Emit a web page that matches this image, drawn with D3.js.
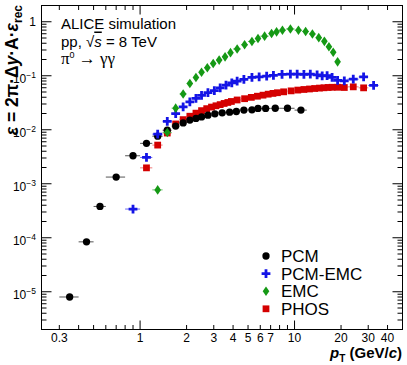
<!DOCTYPE html>
<html>
<head>
<meta charset="utf-8">
<script src="https://cdn.jsdelivr.net/npm/d3@7"></script>
<style>
  body { margin: 0; background: #fff; }
  svg { font-family: "Liberation Sans", Arial, Helvetica, sans-serif; }
</style>
</head>
<body>
<div id="chart"></div>
<script>
// ---- data: bin edges in pT (GeV/c) and efficiency per bin ----
const pcmEdges = [0.3, 0.4, 0.5, 0.6, 0.8, 1.0, 1.2, 1.4, 1.6, 1.8, 2.0, 2.2, 2.4, 2.6, 2.9,
                  3.2, 3.6, 4.0, 4.4, 5.0, 5.6, 6.0, 7.0, 8.0, 10.0, 12.0];
const pcmEff = [8.0e-6, 8.4e-5, 3.8e-4, 1.33e-3, 3.3e-3, 5.6e-3, 7.6e-3, 9.8e-3, 0.0117, 0.0134,
                0.0151, 0.0162, 0.0173, 0.0186, 0.0197, 0.0206, 0.0212, 0.0218, 0.0231, 0.0234,
                0.0248, 0.0248, 0.0250, 0.0250, 0.0231];

const pcmEmcEdges = [0.8, 1.0, 1.2, 1.4, 1.6, 1.8, 2.0, 2.2, 2.4, 2.6, 2.9, 3.15, 3.45, 3.75, 4.1,
                     4.4, 5.0, 5.6, 6.2, 7.0, 7.6, 9.0, 9.8, 11, 12, 13.3, 14.7, 15.5, 17, 18,
                     20, 22, 26, 30, 35];
const pcmEmcEff = [3.4e-4, 3.07e-3, 8.3e-3, 0.0143, 0.0199, 0.0265, 0.0329, 0.0381, 0.0433, 0.0486,
                   0.0530, 0.0597, 0.0670, 0.0739, 0.0794, 0.0854, 0.0930, 0.0954, 0.0983, 0.1013,
                   0.1058, 0.1071, 0.1071, 0.1058, 0.1071, 0.1035, 0.0991, 0.1004, 0.0930, 0.0822,
                   0.0801, 0.0865, 0.0951, 0.0661];

const emcEdges = [1.2, 1.4, 1.6, 1.8, 2.0, 2.2, 2.4, 2.6, 2.85, 3.1, 3.4, 3.7, 4.0, 4.5, 5.0,
                  5.6, 6.0, 6.8, 7.4, 7.9, 8.8, 10, 11.2, 12.4, 13.7, 15, 16.2, 17.2, 18.4, 19.6];
const emcEff = [7.7e-4, 8.9e-3, 0.0251, 0.046, 0.072, 0.093, 0.116, 0.141, 0.169, 0.195,
                0.224, 0.268, 0.313, 0.375, 0.432, 0.491, 0.541, 0.607, 0.650, 0.698,
                0.736, 0.698, 0.661, 0.594, 0.508, 0.434, 0.344, 0.273, 0.181];

const phosEdges = [1.0, 1.2, 1.4, 1.6, 1.8, 2.0, 2.2, 2.4, 2.6, 2.8, 3.0, 3.2, 3.4, 3.6, 3.8,
                   4.0, 4.5, 5.0, 5.5, 6.0, 6.5, 7.0, 7.5, 8.0, 9.0, 10, 11, 12, 13, 14,
                   15, 16, 17, 18, 20, 22, 26, 30];
const phosEff = [1.97e-3, 5.2e-3, 8.7e-3, 0.0128, 0.0154, 0.0178, 0.0203, 0.0226, 0.0246, 0.0263,
                 0.0278, 0.0292, 0.0307, 0.0320, 0.0334, 0.0356, 0.0376, 0.0398, 0.0418, 0.0437,
                 0.0456, 0.0471, 0.0485, 0.0504, 0.0525, 0.0543, 0.0557, 0.0569, 0.0581, 0.0591,
                 0.0599, 0.0607, 0.0612, 0.0612, 0.0606, 0.0623, 0.0597];

const xDomain = [0.23, 50];
const yDomain = [2e-6, 2];
const xTickLabels = [0.3, 1, 2, 3, 4, 5, 6, 7, 10, 20, 30, 40];
const yTickExponents = [0, -1, -2, -3, -4, -5];
const legendNames = ['PCM', 'PCM-EMC', 'EMC', 'PHOS'];

// ---- layout ----
const W = 407, H = 365;
const X0 = 41.5, X1 = 402.5, Y0 = 5.5, Y1 = 329.5;

const svg = d3.select('#chart').append('svg')
    .attr('width', W)
    .attr('height', H);

const x = d3.scaleLog().domain(xDomain).range([X0, X1]);
const y = d3.scaleLog().domain(yDomain).range([Y1, Y0]);

// marker shapes (ROOT style 20, 34, 33, 21)
const crossPath = (a, t) => `M${-a},${-t}H${-t}V${-a}H${t}V${-t}H${a}V${t}H${t}V${a}H${-t}V${t}H${-a}Z`;
const diamondPath = (w, h) => `M0,${-h}L${w},0L0,${h}L${-w},0Z`;

const styles = {
    PCM:       {color: '#000000', err: '#555555', shape: d3.symbol(d3.symbolCircle, 42)()},
    'PCM-EMC': {color: '#1414e6', err: '#6a6af0', shape: crossPath(4.4, 1.4)},
    EMC:       {color: '#159915', err: '#6cc06c', shape: diamondPath(3.3, 4.8)},
    PHOS:      {color: '#d40000', err: '#f07a7a', shape: d3.symbol(d3.symbolSquare, 46)()}
};

function binned(edges, eff){
    return eff.map((v, i) => ({lo: edges[i], hi: edges[i + 1], pt: (edges[i] + edges[i + 1]) / 2, v}));
}

const series = [
    {name: 'PHOS', data: binned(phosEdges, phosEff)},
    {name: 'PCM', data: binned(pcmEdges, pcmEff)},
    {name: 'PCM-EMC', data: binned(pcmEmcEdges, pcmEmcEff)},
    {name: 'EMC', data: binned(emcEdges, emcEff)}
];

// ---- frame and ticks ----
svg.append('rect')
    .attr('x', X0).attr('y', Y0)
    .attr('width', X1 - X0).attr('height', Y1 - Y0)
    .attr('fill', 'none').attr('stroke', '#000').attr('stroke-width', 1);

const decadeTicks = (lo, hi) => {
    let out = [];
    for (let e = Math.floor(Math.log10(lo)); e <= Math.ceil(Math.log10(hi)); e++)
        for (let m = 1; m < 10; m++){
            const v = m * Math.pow(10, e);
            if (v > lo && v < hi) out.push({v, major: m === 1});
        }
    return out;
};

const ticks = svg.append('g').attr('stroke', '#000').attr('stroke-width', 1);

decadeTicks(...xDomain).forEach(t => {
    const px = x(t.v), len = t.major ? 9 : 4.5;
    ticks.append('line').attr('x1', px).attr('x2', px).attr('y1', Y1).attr('y2', Y1 - len);
    ticks.append('line').attr('x1', px).attr('x2', px).attr('y1', Y0).attr('y2', Y0 + len);
});

decadeTicks(...yDomain).forEach(t => {
    const py = y(t.v), len = t.major ? 10 : 5;
    ticks.append('line').attr('x1', X0).attr('x2', X0 + len).attr('y1', py).attr('y2', py);
    ticks.append('line').attr('x1', X1).attr('x2', X1 - len).attr('y1', py).attr('y2', py);
});

// x tick labels
svg.append('g').selectAll('text')
    .data(xTickLabels)
    .join('text')
    .attr('x', d => x(d))
    .attr('y', 342)
    .attr('text-anchor', 'middle')
    .attr('font-size', 12)
    .text(d => d);

// y tick labels
const yLab = svg.append('g').selectAll('text')
    .data(yTickExponents)
    .join('text')
    .attr('x', 36)
    .attr('y', d => y(Math.pow(10, d)) + (d === 0 ? 4.5 : 7.5))
    .attr('text-anchor', 'end')
    .attr('font-size', 12);
yLab.each(function(d){
    const t = d3.select(this);
    if (d === 0){ t.text('1'); return; }
    t.append('tspan').text('10');
    t.append('tspan').attr('font-size', 8.5).attr('dy', -5).text('\u2212' + (-d));
});

// axis titles
const xt = svg.append('text')
    .attr('x', 402).attr('y', 358)
    .attr('text-anchor', 'end')
    .attr('font-size', 15).attr('font-weight', 'bold');
xt.append('tspan').attr('font-style', 'italic').text('p');
xt.append('tspan').attr('font-size', 10).attr('dy', 4).text('T');
xt.append('tspan').attr('dy', -4).text(' (GeV/');
xt.append('tspan').attr('font-style', 'italic').text('c');
xt.append('tspan').text(')');

const yt = svg.append('text')
    .attr('transform', 'translate(18,5)rotate(-90)')
    .attr('text-anchor', 'end')
    .attr('font-size', 17.5).attr('font-weight', 'bold');
yt.append('tspan').attr('font-style', 'italic').text('\u03b5');
yt.append('tspan').text(' = 2\u03c0\u00b7\u0394');
yt.append('tspan').attr('font-style', 'italic').text('y');
yt.append('tspan').text('\u00b7A\u00b7');
yt.append('tspan').attr('font-style', 'italic').text('\u03b5');
yt.append('tspan').attr('font-size', 12).attr('dy', 4).text('rec');

// ---- data points ----
const plot = svg.append('g');
series.forEach(s => {
    const st = styles[s.name];
    const g = plot.append('g');
    g.selectAll('line')
        .data(s.data)
        .join('line')
        .attr('x1', d => x(d.lo)).attr('x2', d => x(d.hi))
        .attr('y1', d => y(d.v)).attr('y2', d => y(d.v))
        .attr('stroke', st.err).attr('stroke-width', 1);
    g.selectAll('path')
        .data(s.data)
        .join('path')
        .attr('d', st.shape)
        .attr('transform', d => `translate(${x(d.pt)},${y(d.v)})`)
        .attr('fill', st.color);
});

// ---- labels ----
const info = svg.append('g').attr('font-size', 15);
info.append('text').attr('x', 61).attr('y', 29).text('ALICE simulation');
const l2 = info.append('text').attr('x', 61).attr('y', 46.5);
l2.append('tspan').text('pp, \u221a');
l2.append('tspan').attr('font-style', 'italic').attr('text-decoration', 'overline').text('s');
l2.append('tspan').text(' = 8 TeV');
const l3 = info.append('text').attr('x', 61).attr('y', 64)
    .attr('font-size', 17)
    .attr('font-family', '"Liberation Serif", "DejaVu Serif", serif');
l3.append('tspan').text('\u03c0');
l3.append('tspan').attr('font-size', 9).attr('dy', -6).attr('font-family', '"Liberation Sans", Arial, sans-serif').text('0');
l3.append('tspan').attr('dy', 6).text(' \u2192 \u03b3\u03b3');

// ---- legend ----
const legend = svg.append('g').selectAll('g')
    .data(legendNames)
    .join('g')
    .attr('transform', (d, i) => `translate(266,${256 + i * 17.6})`);
legend.append('path')
    .attr('d', d => styles[d].shape)
    .attr('fill', d => styles[d].color);
legend.append('text')
    .attr('x', 15).attr('y', 6)
    .attr('font-size', 17)
    .text(d => d);
</script>
</body>
</html>
